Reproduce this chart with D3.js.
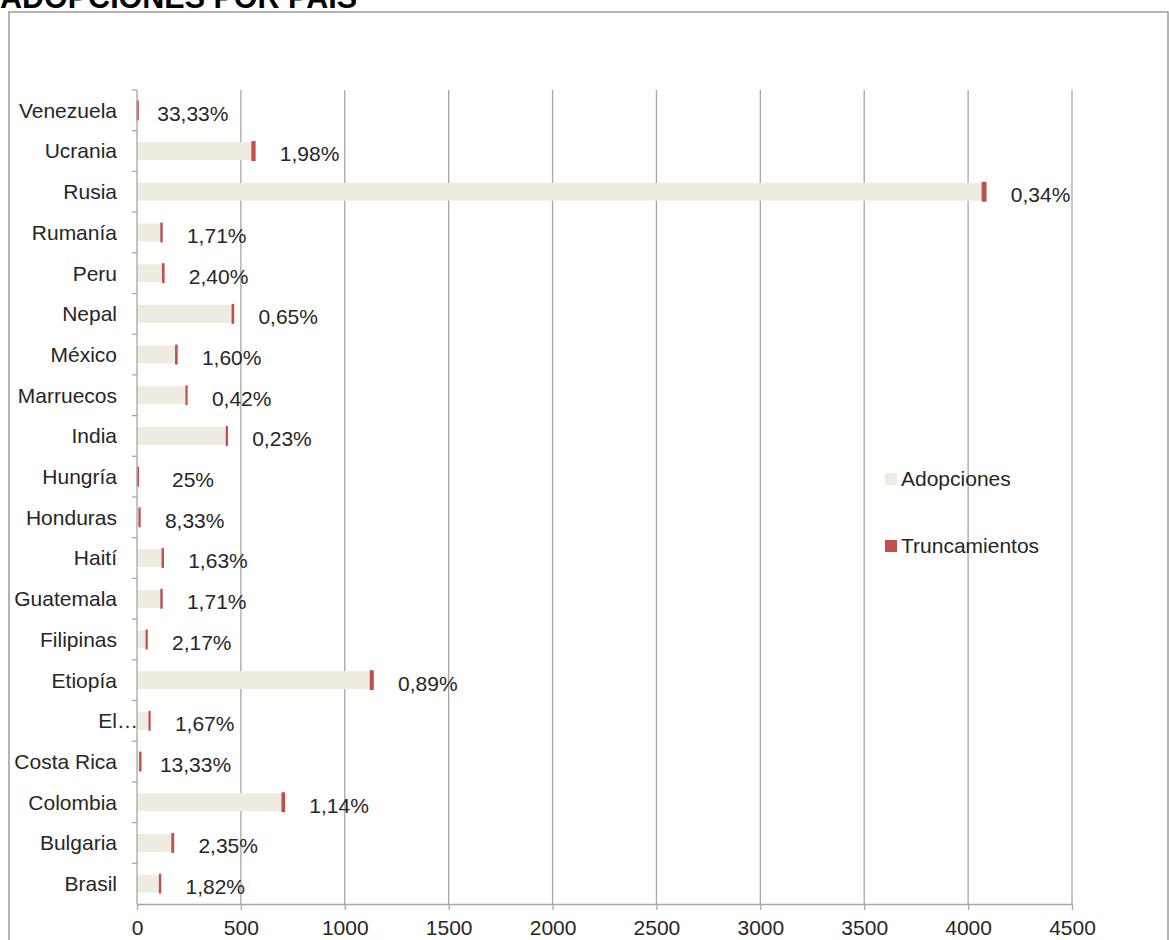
<!DOCTYPE html>
<html>
<head>
<meta charset="utf-8">
<script src="https://cdn.jsdelivr.net/npm/d3@7"></script>
<style>
  html, body { margin: 0; padding: 0; background: #fff; }
  svg { display: block; font-family: "Liberation Sans", Arial, sans-serif; }
</style>
</head>
<body>
<svg id="chart" width="1169" height="940"></svg>
<script>
// Categories listed bottom to top (as in the source chart)
const categories = ["Brasil","Bulgaria","Colombia","Costa Rica","El Salvador","Etiopía","Filipinas",
  "Guatemala","Haití","Honduras","Hungría","India","Marruecos","México","Nepal","Peru","Rumanía",
  "Rusia","Ucrania","Venezuela"];
const adopciones = [110,170,700,15,60,1125,46,117,123,12,4,432,238,188,460,125,117,4070,555,3];
const truncamientos = [2,4,8,2,1,10,1,2,2,1,1,1,1,3,3,3,2,14,11,1];
const pctLabels = ["1,82%","2,35%","1,14%","13,33%","1,67%","0,89%","2,17%","1,71%","1,63%","8,33%",
  "25%","0,23%","0,42%","1,60%","0,65%","2,40%","1,71%","0,34%","1,98%","33,33%"];
const xTicks = [0,500,1000,1500,2000,2500,3000,3500,4000,4500];
const seriesNames = ["Adopciones","Truncamientos"];
const truncatedNames = {"El Salvador": "El"};

const colors = { adop: "#EEECE1", trunc: "#C0504D", grid: "#A6A6A6", text: "#262626" };

const rows = categories.map((c, i) => ({
  cat: c, adop: adopciones[i], trunc: truncamientos[i], label: pctLabels[i]
}));

const svg = d3.select("#chart");
const fontSize = 21;

// outer frame
svg.append("rect").attr("x", 9).attr("y", 12).attr("width", 1159).attr("height", 960)
  .attr("fill", "none").attr("stroke", "#8C8C8C").attr("stroke-width", 1.3);

// title (cut at the top as in the reference)
svg.append("text").attr("x", 0).attr("y", 7.5)
  .attr("font-size", 30.5).attr("font-weight", "bold").attr("fill", "#000")
  .text("ADOPCIONES POR PAÍS");

const x = d3.scaleLinear().domain([0, 4500]).range([137, 1072]);
const y = d3.scaleBand().domain(categories.slice().reverse()).range([90, 904]).paddingInner(0.56).paddingOuter(0.28);
const yEdge = d3.scaleBand().domain(categories.slice().reverse()).range([90, 904]);

// vertical gridlines
svg.append("g").selectAll("line").data(xTicks.filter(t => t > 0)).join("line")
  .attr("x1", d => x(d)).attr("x2", d => x(d)).attr("y1", 90).attr("y2", 904)
  .attr("stroke", colors.grid).attr("stroke-width", 1.3);

// bars
const g = svg.append("g");
g.selectAll("rect.adop").data(rows).join("rect").attr("class", "adop")
  .attr("x", x(0)).attr("y", d => y(d.cat))
  .attr("width", d => x(d.adop) - x(0)).attr("height", y.bandwidth())
  .attr("fill", colors.adop);
g.selectAll("rect.trunc").data(rows).join("rect").attr("class", "trunc")
  .attr("x", d => x(d.adop)).attr("y", d => y(d.cat))
  .attr("width", d => x(d.adop + d.trunc) - x(d.adop)).attr("height", y.bandwidth())
  .attr("fill", colors.trunc).attr("stroke", colors.trunc).attr("stroke-width", 2)
  .attr("stroke-linejoin", "miter");

// percentage labels
g.selectAll("text.pct").data(rows).join("text").attr("class", "pct")
  .attr("x", d => x(d.adop + d.trunc) + 55)
  .attr("y", d => y(d.cat) + y.bandwidth() / 2 + 3)
  .attr("dy", "0.35em").attr("text-anchor", "middle")
  .attr("font-size", fontSize).attr("fill", colors.text)
  .text(d => d.label);

// y axis
const yAxisG = svg.append("g");
yAxisG.append("line").attr("x1", x(0)).attr("x2", x(0)).attr("y1", 90).attr("y2", 904)
  .attr("stroke", colors.grid).attr("stroke-width", 1.3);
yAxisG.selectAll("line.tick").data(categories.slice().reverse()).join("line").attr("class", "tick")
  .attr("x1", x(0) - 5).attr("x2", x(0)).attr("y1", d => yEdge(d)).attr("y2", d => yEdge(d))
  .attr("stroke", colors.grid).attr("stroke-width", 1.3);
yAxisG.selectAll("text").data(categories).join("text")
  .attr("x", 117).attr("y", d => yEdge(d) + yEdge.bandwidth() / 2)
  .attr("dy", "0.35em").attr("text-anchor", "end")
  .attr("font-size", fontSize).attr("fill", colors.text)
  .text(d => truncatedNames[d] || d);
yAxisG.selectAll("text.ell").data(categories.filter(c => truncatedNames[c])).join("text").attr("class", "ell")
  .attr("x", 117).attr("y", d => yEdge(d) + yEdge.bandwidth() / 2)
  .attr("dy", "0.35em").attr("text-anchor", "start")
  .attr("font-size", fontSize).attr("fill", colors.text)
  .text("…");

// x axis
const xAxis = d3.axisBottom(x).tickValues(xTicks).tickSize(6).tickSizeOuter(0).tickPadding(10)
  .tickFormat(d3.format("d"));
const xg = svg.append("g").attr("transform", "translate(0,904)").call(xAxis);
xg.select(".domain").attr("stroke", colors.grid).attr("stroke-width", 1.3);
xg.selectAll(".tick line").attr("stroke", colors.grid).attr("stroke-width", 1.3);
xg.selectAll(".tick text").attr("font-size", fontSize).attr("fill", colors.text)
  .attr("font-family", "Liberation Sans, Arial, sans-serif");

// legend
const legend = svg.append("g");
const legendItems = [
  { name: seriesNames[0], color: colors.adop, y: 479 },
  { name: seriesNames[1], color: colors.trunc, y: 546 }
];
legend.selectAll("rect").data(legendItems).join("rect")
  .attr("x", 885).attr("y", d => d.y - 6).attr("width", 12).attr("height", 12)
  .attr("fill", d => d.color);
legend.selectAll("text").data(legendItems).join("text")
  .attr("x", 901).attr("y", d => d.y).attr("dy", "0.35em")
  .attr("font-size", fontSize).attr("fill", colors.text)
  .text(d => d.name);
</script>
</body>
</html>
